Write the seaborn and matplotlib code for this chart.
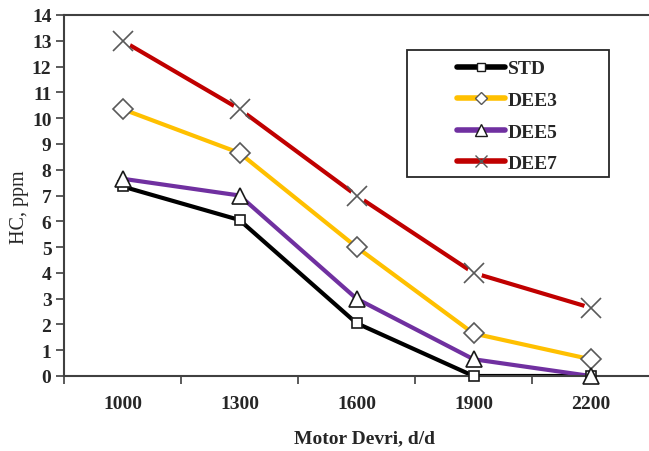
import matplotlib
matplotlib.use("Agg")
import matplotlib.pyplot as plt
from matplotlib.lines import Line2D
from matplotlib.patches import Rectangle
import seaborn as sns
import pandas as pd

# Engine speed (rpm) and hydrocarbon emissions (ppm) per fuel blend
speeds = ["1000", "1300", "1600", "1900", "2200"]
std = [7.35, 6.05, 2.05, 0.0, 0.0]
dee3 = [10.35, 8.65, 5.0, 1.65, 0.65]
dee5 = [7.65, 7.0, 3.0, 0.65, 0.0]
dee7 = [13.0, 10.35, 7.0, 4.0, 2.65]
series_names = ["STD", "DEE3", "DEE5", "DEE7"]

colors = {"STD": "#000000", "DEE3": "#FFC000", "DEE5": "#7030A0", "DEE7": "#C00000"}
markers = {"STD": "s", "DEE3": "D", "DEE5": "^", "DEE7": "x"}
msizes = {"STD": 7, "DEE3": 10, "DEE5": 11.5, "DEE7": 14}
medges = {"STD": "#1a1a1a", "DEE3": "#595959", "DEE5": "#1a1a1a", "DEE7": "#595959"}

frames = []
for name, vals in zip(series_names, [std, dee3, dee5, dee7]):
    frames.append(pd.DataFrame({"speed": speeds, "hc": vals, "fuel": name}))
df = pd.concat(frames, ignore_index=True)

sns.set_style("white")
plt.rcParams["font.family"] = ["Liberation Serif", "DejaVu Serif"]

fig = plt.figure(figsize=(6.49, 4.52), dpi=100)
ax = fig.add_axes([64 / 649, 75 / 452, 1 - 64 / 649, (377 - 16) / 452])

sns.lineplot(data=df, x="speed", y="hc", hue="fuel", palette=colors,
             linewidth=3.0, ax=ax, legend=False, sort=False)

# hollow markers drawn over the lines
for name in series_names:
    sub = df[df["fuel"] == name]
    xs = [speeds.index(s) for s in sub["speed"]]
    if name == "DEE7":
        # white disc so the line breaks around each cross
        ax.plot(xs, sub["hc"], linestyle="none", marker="o", markersize=11,
                markerfacecolor="white", markeredgewidth=0, zorder=4.5, clip_on=False)
    ax.plot(xs, sub["hc"], linestyle="none", marker=markers[name],
            markersize=msizes[name], markerfacecolor="white" if name != "DEE7" else "none",
            markeredgecolor=medges[name], markeredgewidth=1.2, zorder=5, clip_on=False)

ax.set_xlim(-0.5, 4.5)
ax.set_ylim(0, 14)
ax.set_yticks(range(0, 15))
ax.set_xticks(range(len(speeds)))
ax.set_xticklabels(speeds)
ax.set_xticks([i + 0.5 for i in range(-1, 4)], minor=True)
ax.tick_params(axis="x", which="major", length=0, pad=14, labelsize=14)
ax.tick_params(axis="x", which="minor", length=6, width=1.2, color="#404040", direction="out", bottom=True)
ax.tick_params(axis="y", length=6, width=1.2, color="#404040", direction="out", left=True, labelsize=14, pad=3)
for lbl in ax.get_xticklabels() + ax.get_yticklabels():
    lbl.set_fontweight("bold")

for side in ["left", "bottom", "top"]:
    ax.spines[side].set_visible(True)
    ax.spines[side].set_color("#404040")
    ax.spines[side].set_linewidth(1.5)
ax.spines["right"].set_visible(False)

ax.set_xlabel("Motor Devri, d/d", fontsize=14, fontweight="bold")
ax.xaxis.set_label_coords(0.513, -0.148)
ax.set_ylabel("HC, ppm", fontsize=14.5, fontweight="normal")
ax.yaxis.set_label_coords(-0.059, 0.471)

# legend: entries plus a separate framed box around them
box = Rectangle((0.586, 0.551), 0.346, 0.352, transform=ax.transAxes, fill=True,
                facecolor="white", edgecolor="#262626", linewidth=1.3, zorder=6)
ax.add_patch(box)
handles = [Line2D([0], [0], color=colors[n], lw=4, marker=markers[n],
                  markersize={"STD": 6, "DEE3": 6.5, "DEE5": 8, "DEE7": 9}[n],
                  markerfacecolor="white" if n != "DEE7" else "none",
                  markeredgecolor=medges[n], markeredgewidth=1.0) for n in series_names]
leg = ax.legend(handles, series_names, loc="upper left", bbox_to_anchor=(0.672, 0.876),
                frameon=False, handlelength=2.45, borderpad=0, borderaxespad=0,
                labelspacing=0.72, handletextpad=0.15,
                prop={"family": "Liberation Serif", "weight": "bold", "size": 14})
leg.set_zorder(7)

fig.savefig("out.png", dpi=100)
